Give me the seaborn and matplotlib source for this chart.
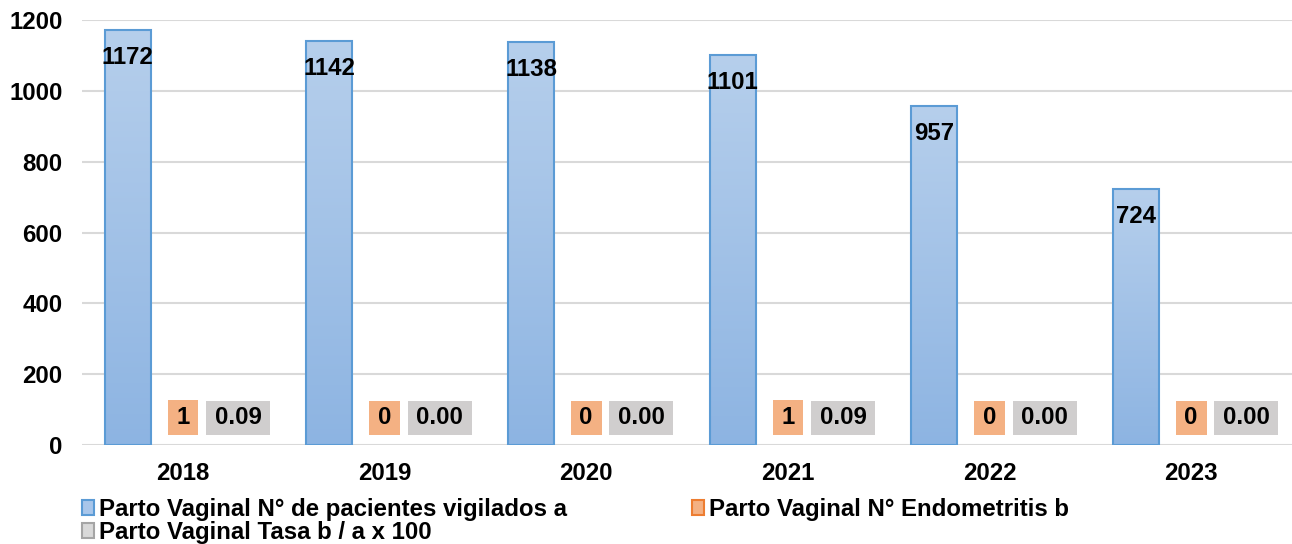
import numpy as np
import pandas as pd
import matplotlib
matplotlib.use("Agg")
import matplotlib.pyplot as plt
import seaborn as sns
from matplotlib.path import Path
from matplotlib.patches import Rectangle
from matplotlib.colors import LinearSegmentedColormap

# ---- data ----
years = ["2018", "2019", "2020", "2021", "2022", "2023"]
vigilados = [1172, 1142, 1138, 1101, 957, 724]
endometritis = [1, 0, 0, 1, 0, 0]
tasa = [0.09, 0.00, 0.00, 0.09, 0.00, 0.00]
series_names = ["Parto Vaginal N° de pacientes vigilados a",
                "Parto Vaginal N° Endometritis b",
                "Parto Vaginal Tasa b / a x 100"]
yticks = [0, 200, 400, 600, 800, 1000, 1200]

df = pd.DataFrame({
    "year": years * 3,
    "value": vigilados + endometritis + tasa,
    "serie": [series_names[0]] * 6 + [series_names[1]] * 6 + [series_names[2]] * 6,
})

sns.set_theme(style="white")
plt.rcParams['font.family'] = ['Liberation Sans', 'DejaVu Sans']
plt.rcParams['font.weight'] = 'bold'
plt.rcParams['text.color'] = 'black'
plt.rcParams['xtick.color'] = 'black'
plt.rcParams['ytick.color'] = 'black'
FS = 17.3

blue_edge = "#5b9bd5"
blue_fill = "#9fc0e7"
orange = "#f4b183"
orange_edge = "#ed7d31"
gray = "#d0cece"
gray_edge = "#a5a5a5"

fig = plt.figure(figsize=(12.92, 5.44), dpi=100)
ax = fig.add_axes([82 / 1292, (544 - 445) / 544, 1210 / 1292, 425 / 544])

sns.barplot(data=df, x="year", y="value", hue="serie", hue_order=series_names,
            palette=[blue_fill, orange, gray], width=0.82, gap=0.165,
            ax=ax, legend=False, saturation=1, linewidth=0)

ax.set_ylim(0, 1200)
ax.set_yticks(yticks)
ax.grid(axis="y", color="#d9d9d9", linewidth=1.5)
ax.set_axisbelow(True)
for s in ax.spines.values():
    s.set_visible(False)
ax.set_xlabel("")
ax.set_ylabel("")
ax.tick_params(axis="y", length=0, pad=14, labelsize=FS, labelcolor="black")
ax.tick_params(axis="x", length=0, pad=12, labelsize=FS, labelcolor="black")
for lbl in ax.get_xticklabels() + ax.get_yticklabels():
    lbl.set_fontweight("bold")

# gradient fill for blue bars
cmap = LinearSegmentedColormap.from_list("bl", ["#8db4e2", "#b6cfec"])
grad = np.linspace(0, 1, 256).reshape(-1, 1)
blue_cont, orange_cont, gray_cont = ax.containers[0], ax.containers[1], ax.containers[2]
for p in blue_cont.patches:
    x, y0 = p.get_x(), p.get_y()
    w, h = p.get_width(), p.get_height()
    im = ax.imshow(grad, extent=[x, x + w, y0, y0 + h], origin="lower",
                   aspect="auto", cmap=cmap, zorder=2)
    im.set_clip_path(p)
    p.set_facecolor("none")
    p.set_edgecolor(blue_edge)
    p.set_linewidth(1.5)
    p.set_zorder(3)
ax.set_xlim(-0.5, len(years) - 0.5)
ax.set_ylim(0, 1200)


def padbox(x0, y0, width, height, mutation_size):
    px = 0.36 * mutation_size
    py = 0.24 * mutation_size
    x1, y1 = x0 + width, y0 + height
    return Path([(x0 - px, y0 - py), (x1 + px, y0 - py), (x1 + px, y1 + py),
                 (x0 - px, y1 + py), (x0 - px, y0 - py)],
                [Path.MOVETO, Path.LINETO, Path.LINETO, Path.LINETO, Path.CLOSEPOLY])


# labels
for p, v in zip(blue_cont.patches, vigilados):
    ax.annotate(f"{v}", (p.get_x() + p.get_width() / 2, p.get_height()),
                xytext=(0, -20), textcoords="offset points", ha="center",
                va="center", fontsize=FS, fontweight="bold", color="black", zorder=5)
for p, v in zip(orange_cont.patches, endometritis):
    ax.annotate(f"{v}", (p.get_x() + p.get_width() / 2, p.get_height()),
                xytext=(0, 19.5), textcoords="offset points", ha="center",
                va="center", fontsize=FS, fontweight="bold", color="black", zorder=5,
                bbox=dict(boxstyle=padbox, fc=orange, ec="none"))
for p, v in zip(gray_cont.patches, tasa):
    ax.annotate(f"{v:.2f}", (p.get_x() + p.get_width() / 2, p.get_height()),
                xytext=(0, 19.5), textcoords="offset points", ha="center",
                va="center", fontsize=FS, fontweight="bold", color="black", zorder=5,
                bbox=dict(boxstyle=padbox, fc=gray, ec="none"))

handles = [Rectangle((0, 0), 1, 1, fc="#a9c6ea", ec=blue_edge, lw=1.5),
           Rectangle((0, 0), 1, 1, fc="#d9d9d9", ec=gray_edge, lw=1.5),
           Rectangle((0, 0), 1, 1, fc=orange, ec=orange_edge, lw=1.5)]
labels = [series_names[0], series_names[2], series_names[1]]
leg = fig.legend(handles, labels, ncol=2, loc="upper left",
                 bbox_to_anchor=(82 / 1292, 1 - 498 / 544), frameon=False,
                 borderpad=0, borderaxespad=0, handlelength=0.5, handleheight=0.55,
                 handletextpad=0.2, columnspacing=5.2, labelspacing=0.0,
                 prop=dict(size=FS, weight="bold"))
for t in leg.get_texts():
    t.set_color("black")

fig.savefig("out.png", dpi=100)
